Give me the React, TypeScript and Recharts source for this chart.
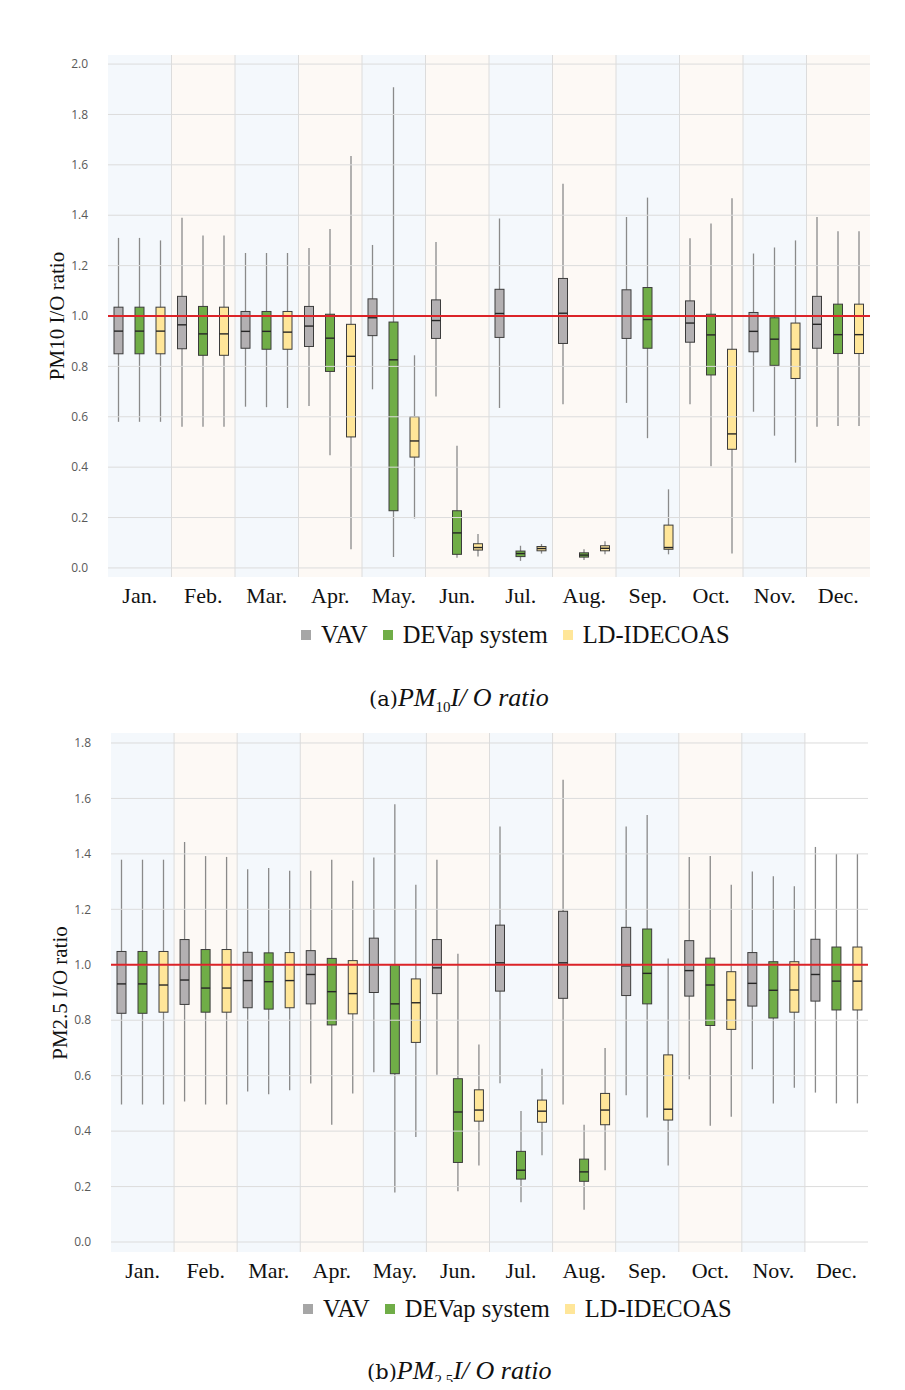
import React from 'react';
import {
  ComposedChart,
  Bar,
  XAxis,
  YAxis,
  ReferenceLine,
  ReferenceArea,
} from 'recharts';

type Stats = [number, number, number, number, number]; // min, q1, median, q3, max

const months = ['Jan.', 'Feb.', 'Mar.', 'Apr.', 'May.', 'Jun.', 'Jul.', 'Aug.', 'Sep.', 'Oct.', 'Nov.', 'Dec.'];

const seriesNames = ['VAV', 'DEVap system', 'LD-IDECOAS'];

// (a) PM10 I/O ratio
const pm10Vav: Stats[] = [
  [0.58, 0.85, 0.94, 1.035, 1.31],
  [0.56, 0.87, 0.965, 1.078, 1.39],
  [0.64, 0.872, 0.939, 1.018, 1.25],
  [0.643, 0.879, 0.96, 1.038, 1.27],
  [0.709, 0.922, 0.993, 1.068, 1.282],
  [0.68, 0.911, 0.982, 1.064, 1.294],
  [0.635, 0.915, 1.01, 1.106, 1.387],
  [0.65, 0.891, 1.011, 1.149, 1.525],
  [0.655, 0.911, 1.0, 1.104, 1.393],
  [0.65, 0.896, 0.972, 1.06, 1.309],
  [0.62, 0.858, 0.939, 1.014, 1.248],
  [0.56, 0.872, 0.967, 1.078, 1.393],
];
const pm10Devap: Stats[] = [
  [0.58, 0.85, 0.94, 1.035, 1.31],
  [0.56, 0.844, 0.929, 1.038, 1.32],
  [0.638, 0.868, 0.939, 1.018, 1.25],
  [0.447, 0.78, 0.912, 1.007, 1.345],
  [0.043, 0.227, 0.826, 0.976, 1.908],
  [0.04, 0.054, 0.139, 0.227, 0.485],
  [0.028, 0.045, 0.057, 0.067, 0.088],
  [0.031, 0.043, 0.051, 0.06, 0.074],
  [0.515, 0.872, 0.986, 1.113, 1.47],
  [0.404, 0.766, 0.925, 1.007, 1.367],
  [0.525, 0.804, 0.908, 0.993, 1.272],
  [0.563, 0.851, 0.926, 1.047, 1.336],
];
const pm10Ld: Stats[] = [
  [0.58, 0.85, 0.94, 1.035, 1.3],
  [0.56, 0.844, 0.929, 1.035, 1.32],
  [0.635, 0.868, 0.936, 1.018, 1.25],
  [0.074, 0.52, 0.84, 0.967, 1.635],
  [0.196, 0.44, 0.504, 0.6, 0.844],
  [0.045, 0.071, 0.081, 0.096, 0.135],
  [0.057, 0.068, 0.077, 0.085, 0.095],
  [0.054, 0.068, 0.078, 0.088, 0.106],
  [0.054, 0.074, 0.081, 0.17, 0.312],
  [0.057, 0.471, 0.532, 0.868, 1.467],
  [0.418, 0.752, 0.868, 0.972, 1.3],
  [0.563, 0.851, 0.926, 1.047, 1.336],
];

// (b) PM2.5 I/O ratio
const pm25Vav: Stats[] = [
  [0.496, 0.825, 0.931, 1.048, 1.379],
  [0.507, 0.857, 0.945, 1.091, 1.443],
  [0.543, 0.845, 0.943, 1.045, 1.345],
  [0.572, 0.859, 0.965, 1.051, 1.339],
  [0.612, 0.9, 1.0, 1.096, 1.387],
  [0.603, 0.896, 0.989, 1.091, 1.379],
  [0.573, 0.905, 1.007, 1.143, 1.499],
  [0.496, 0.879, 1.007, 1.193, 1.667],
  [0.529, 0.889, 0.996, 1.135, 1.499],
  [0.587, 0.887, 0.979, 1.087, 1.389],
  [0.623, 0.851, 0.933, 1.044, 1.336],
  [0.539, 0.869, 0.965, 1.092, 1.425],
];
const pm25Devap: Stats[] = [
  [0.496, 0.825, 0.931, 1.048, 1.379],
  [0.496, 0.829, 0.916, 1.055, 1.392],
  [0.533, 0.84, 0.939, 1.043, 1.349],
  [0.423, 0.783, 0.903, 1.023, 1.379],
  [0.179, 0.607, 0.859, 0.999, 1.579],
  [0.183, 0.287, 0.469, 0.589, 1.04],
  [0.143, 0.227, 0.259, 0.327, 0.473],
  [0.116, 0.219, 0.253, 0.299, 0.423],
  [0.449, 0.859, 0.969, 1.129, 1.54],
  [0.419, 0.781, 0.927, 1.024, 1.392],
  [0.5, 0.808, 0.908, 1.011, 1.319],
  [0.5, 0.837, 0.941, 1.064, 1.4],
];
const pm25Ld: Stats[] = [
  [0.496, 0.829, 0.927, 1.048, 1.379],
  [0.496, 0.829, 0.916, 1.055, 1.389],
  [0.547, 0.845, 0.943, 1.044, 1.339],
  [0.536, 0.823, 0.896, 1.015, 1.303],
  [0.379, 0.72, 0.863, 0.949, 1.289],
  [0.276, 0.436, 0.476, 0.549, 0.712],
  [0.313, 0.432, 0.472, 0.512, 0.625],
  [0.259, 0.423, 0.476, 0.536, 0.7],
  [0.276, 0.44, 0.479, 0.675, 1.023],
  [0.452, 0.767, 0.873, 0.975, 1.289],
  [0.556, 0.829, 0.909, 1.011, 1.283],
  [0.5, 0.837, 0.941, 1.064, 1.4],
];

const pm10Ticks = [0, 0.2, 0.4, 0.6, 0.8, 1.0, 1.2, 1.4, 1.6, 1.8, 2.0];
const pm25Ticks = [0, 0.2, 0.4, 0.6, 0.8, 1.0, 1.2, 1.4, 1.6, 1.8];

const boxFills = ['#b3b0b2', '#70ad47', '#ffe699'];
const legendFills = ['#a6a6a6', '#70ad47', '#ffe699'];
const bandFills = ['#f4f8fc', '#fdf9f5'];
const gridColor = '#dcdcdc';

const serif = '"Liberation Serif", "Times New Roman", serif';

function buildRows(series: Stats[][]) {
  return months.map((m, i) => ({
    month: m,
    s0: series[0][i],
    s1: series[1][i],
    s2: series[2][i],
  }));
}

function BoxShape(props: any) {
  const { x, y, width, height, stats, fill } = props;
  if (!stats || y == null || height == null) return null;
  const [lo, q1, med, q3, hi] = stats as Stats;
  const top = Math.min(y, y + height);
  const bottom = Math.max(y, y + height);
  const toPx = (v: number) => (hi === lo ? top : top + ((hi - v) / (hi - lo)) * (bottom - top));
  const cx = x + width / 2;
  const bw = 9;
  const yQ3 = toPx(q3);
  const yQ1 = toPx(q1);
  const yMed = toPx(med);
  return (
    <g>
      <line x1={cx} x2={cx} y1={top} y2={bottom} stroke="#8a8a8a" strokeWidth={1.3} />
      <rect
        x={cx - bw / 2}
        y={yQ3}
        width={bw}
        height={Math.max(yQ1 - yQ3, 1)}
        fill={fill}
        stroke="#3c3c3c"
        strokeWidth={1}
      />
      <line x1={cx - bw / 2} x2={cx + bw / 2} y1={yMed} y2={yMed} stroke="#262626" strokeWidth={1.4} />
    </g>
  );
}

type PanelProps = {
  series: Stats[][];
  ticks: number[];
  domain: [number, number];
  width: number;
  height: number;
  margin: { top: number; right: number; bottom: number; left: number };
};

function BoxPanel({ series, ticks, domain, width, height, margin }: PanelProps) {
  const rows = buildRows(series);
  const keys = ['s0', 's1', 's2'];
  return (
    <ComposedChart width={width} height={height} data={rows} margin={margin} barGap={0} barSize={21}>
      <XAxis
        dataKey="month"
        axisLine={false}
        tickLine={false}
        interval={0}
        height={36}
        tickMargin={4}
        tick={{ fontFamily: serif, fontSize: 22, fill: '#111' }}
      />
      <YAxis
        type="number"
        domain={domain}
        ticks={ticks}
        allowDataOverflow
        axisLine={false}
        tickLine={false}
        width={40}
        tickMargin={14}
        tickFormatter={(v: number) => v.toFixed(1)}
        tick={{ fontFamily: '"Open Sans", sans-serif', fontSize: 12, fill: '#595959' }}
      />
      {months.map((m, i) => (
        <ReferenceArea key={`band-${m}`} x1={m} x2={m} fill={bandFills[i % 2]} fillOpacity={1} stroke="none" />
      ))}
      {months.slice(1).map((m) => (
        <ReferenceLine key={`vl-${m}`} x={m} position="start" stroke={gridColor} strokeWidth={1} />
      ))}
      {ticks.map((t) => (
        <ReferenceLine key={`hl-${t}`} y={t} stroke={gridColor} strokeWidth={1} />
      ))}
      {keys.map((k, si) => (
        <Bar
          key={k}
          dataKey={(d: any) => [d[k][0], d[k][4]]}
          name={seriesNames[si]}
          isAnimationActive={false}
          shape={(p: any) => <BoxShape {...p} stats={p.payload[k]} fill={boxFills[si]} />}
        />
      ))}
      <ReferenceLine y={1} stroke="#dc2328" strokeWidth={2} />
    </ComposedChart>
  );
}

function LegendRow({ left }: { left: number }) {
  return (
    <div
      style={{
        display: 'flex',
        alignItems: 'center',
        fontFamily: serif,
        fontSize: 24.5,
        color: '#111',
        paddingLeft: left,
      }}
    >
      {seriesNames.map((n, i) => (
        <span key={n} style={{ display: 'flex', alignItems: 'center', marginRight: 15 }}>
          <span
            style={{ width: 10, height: 10, background: legendFills[i], display: 'inline-block', marginRight: 10 }}
          />
          {n}
        </span>
      ))}
    </div>
  );
}

function Caption({ letter, sub, left }: { letter: string; sub: string; left: number }) {
  return (
    <div style={{ paddingLeft: left, fontFamily: '"DejaVu Serif", serif', fontSize: 21, color: '#111' }}>
      ({letter})
      <span style={{ fontStyle: 'italic', fontFamily: serif, fontSize: 26 }}>
        PM<sub style={{ fontSize: 15, fontStyle: 'normal' }}>{sub}</sub>I/ O ratio
      </span>
    </div>
  );
}

function AxisTitle({ text, left, top }: { text: string; left: number; top: number }) {
  return (
    <div style={{ position: 'absolute', left, top, width: 0, height: 0 }}>
      <div
        style={{
          position: 'absolute',
          transform: 'translate(-50%, -50%) rotate(-90deg)',
          whiteSpace: 'nowrap',
          fontFamily: serif,
          fontSize: 21,
          color: '#111',
        }}
      >
        {text}
      </div>
    </div>
  );
}

export default function App() {
  return (
    <div style={{ position: 'relative', width: 889, height: 1374, background: '#fff' }}>
      <div style={{ position: 'absolute', left: 0, top: 0 }}>
        <BoxPanel
          series={[pm10Vav, pm10Devap, pm10Ld]}
          ticks={pm10Ticks}
          domain={[-0.036, 2.036]}
          width={890}
          height={620}
          margin={{ top: 47, right: 28, bottom: 15, left: 60 }}
        />
      </div>
      <AxisTitle text="PM10 I/O ratio" left={49} top={308} />
      <div style={{ position: 'absolute', left: 0, top: 613, width: 890 }}>
        <LegendRow left={293} />
      </div>
      <div style={{ position: 'absolute', left: 0, top: 675, width: 890 }}>
        <Caption letter="a" sub="10" left={361} />
      </div>

      <div style={{ position: 'absolute', left: 0, top: 660 }}>
        <BoxPanel
          series={[pm25Vav, pm25Devap, pm25Ld]}
          ticks={pm25Ticks}
          domain={[-0.036, 1.836]}
          width={890}
          height={640}
          margin={{ top: 65, right: 30, bottom: 20, left: 63 }}
        />
      </div>
      <AxisTitle text="PM2.5 I/O ratio" left={52} top={985} />
      <div style={{ position: 'absolute', left: 0, top: 1287, width: 890 }}>
        <LegendRow left={295} />
      </div>
      <div style={{ position: 'absolute', left: 0, top: 1348, width: 890 }}>
        <Caption letter="b" sub="2.5" left={359} />
      </div>
    </div>
  );
}
